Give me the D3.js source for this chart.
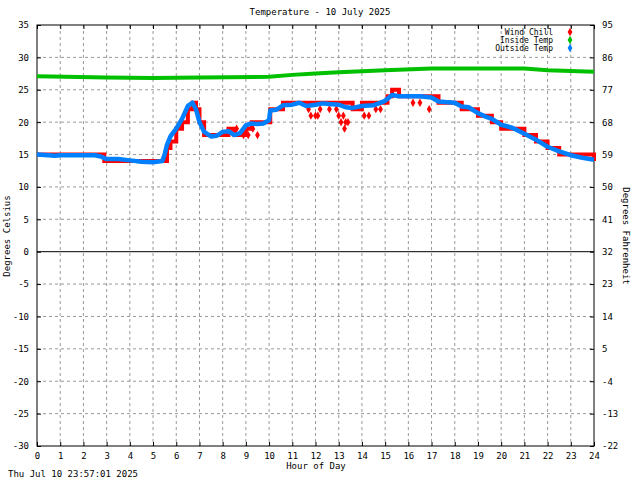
<!DOCTYPE html><html><head><meta charset="utf-8"><script src="https://cdn.jsdelivr.net/npm/d3@7"></script>
<style>body{margin:0;background:#fff}text{font-family:"DejaVu Sans Mono",monospace;font-size:9px}</style></head><body>
<svg id="c" width="640" height="480"></svg>
<script>
const hours=d3.range(0,25);
const cTicks=[35,30,25,20,15,10,5,0,-5,-10,-15,-20,-25,-30];
const fTicks=[95,86,77,68,59,50,41,32,23,14,5,-4,-13,-22];
const outT=[0,0.5,0.75,1,1.5,2,2.5,2.75,3,3.5,4,4.5,5,5.4,5.5,5.6,5.75,6,6.25,6.5,6.7,6.85,7,7.2,7.5,7.75,8,8.25,8.5,8.75,9,9.25,9.5,9.75,10,10.05,10.3,10.6,11,11.3,11.6,12,12.3,12.6,13,13.3,13.6,14,14.5,15,15.3,15.6,16,16.5,17,17.3,17.6,18,18.3,18.6,19,19.3,19.6,20,20.5,21,21.5,22,22.5,23,23.5,24];
const outV=[15.0,14.9,14.8,14.9,14.9,14.9,14.9,14.7,14.3,14.3,14.1,13.9,13.8,14.0,15,16.5,17.8,19,20.5,22.5,23.0,22,20,18.5,17.8,17.9,18.5,18.6,18.0,18.3,19.5,19.8,19.7,19.8,20.3,21.8,21.9,22.6,22.7,23.0,22.5,22.7,22.9,22.8,22.7,22.3,22.2,22.5,22.6,23.3,24.2,24.0,24.0,24.0,23.8,23.2,23.1,23.0,22.4,22.3,21.4,20.9,20.5,19.6,19.1,18.2,17.3,16.2,15.5,14.9,14.5,14.2];
const wcT=[0,2.9,2.9,4.8,4.8,5.4,5.6,5.75,6,6.25,6.5,6.7,6.85,7,7.2,7.5,7.75,8,8.25,8.5,8.75,9,9.25,9.5,9.75,10,10.05,10.3,10.6,11,11.3,11.6,12,13,13.6,14,14.5,15,15.1,15.3,15.6,16,16.5,17,17.3,17.6,18,18.3,18.6,19,19.3,19.6,20,20.5,21,21.5,22,22.5,23,23.5,24];
const wcV=[15,15,14,14,14,14,16,17,19,20,22,23,22,20,18,18,18,18,19,18,18,19,20,20,20,20,22,22,23,23,23,23,23,23,22,23,23,23,24,25,24,24,24,24,23,23,23,22,22,21,21,20,19,19,18,17,16,15,15,15,14];
const dipT=[8.6,8.9,9.1,9.3,9.5,11.7,11.8,12.0,12.1,12.2,12.6,12.9,13.0,13.1,13.2,13.25,13.3,13.4,14.1,14.3,14.6,14.8,16.2,16.5,16.9];
const dipV=[19,18,18,19,18,22,21,21,21,22,22,22,21,20,21,19,20,20,21,21,22,22,23,23,22];
const inT=[0,3,5,7,10,11,12,13,15,17,21,22,24];
const inV=[27.1,26.9,26.8,26.9,27.0,27.3,27.5,27.7,28.0,28.3,28.3,28.0,27.8];

const svg=d3.select("#c"),L=37,R=594,T=25,B=446;
const x=d3.scaleLinear().domain([0,24]).range([L,R]);
const y=d3.scaleLinear().domain([-30,35]).range([B,T]);
const g=svg.append("g");
hours.forEach(h=>{if(h>0&&h<24)g.append("line").attr("x1",x(h)).attr("x2",x(h)).attr("y1",T).attr("y2",B).attr("stroke","#999").attr("stroke-dasharray","3,3");});
cTicks.forEach(c=>{if(c<35&&c>-30&&c!==0)g.append("line").attr("x1",L).attr("x2",R).attr("y1",y(c)).attr("y2",y(c)).attr("stroke","#999").attr("stroke-dasharray","3,3");});
g.append("line").attr("x1",L).attr("x2",R).attr("y1",y(0)).attr("y2",y(0)).attr("stroke","#000");
svg.append("rect").attr("x",L).attr("y",T).attr("width",R-L).attr("height",B-T).attr("fill","none").attr("stroke","#000");
svg.append("g").attr("transform",`translate(${L},0)`).call(d3.axisLeft(y).tickValues(cTicks).tickSize(-4).tickPadding(8).tickFormat(d=>String(d))).call(a=>a.select(".domain").remove());
svg.append("g").attr("transform",`translate(${R},0)`).call(d3.axisRight(y).tickValues(cTicks).tickSize(-4).tickPadding(8).tickFormat((d,i)=>String(fTicks[i]))).call(a=>a.select(".domain").remove());
svg.append("g").attr("transform",`translate(0,${B})`).call(d3.axisBottom(x).tickValues(hours).tickSize(-4).tickPadding(7)).call(a=>a.select(".domain").remove());
svg.append("g").attr("transform",`translate(0,${T})`).call(d3.axisTop(x).tickValues(hours).tickSize(-4).tickFormat("")).call(a=>a.select(".domain").remove());
svg.selectAll(".tick text").style("font-family","DejaVu Sans Mono").style("font-size","9px");
const ln=d3.line().x(d=>x(d[0])).y(d=>y(d[1]));
const st=d3.line().x(d=>x(d[0])).y(d=>y(d[1])).curve(d3.curveStepAfter);
const diamond=d3.symbol().type(d3.symbolDiamond).size(20);
svg.append("path").attr("d",st(wcT.map((t,i)=>[t,wcV[i]]))).attr("fill","none").attr("stroke","#ff0000").attr("stroke-width",4);
svg.selectAll(".dip").data(dipT.map((t,i)=>[t,dipV[i]])).join("path").attr("d",diamond).attr("transform",d=>`translate(${x(d[0])},${y(d[1])})`).attr("fill","#ff0000");
svg.append("path").attr("d",ln(inT.map((t,i)=>[t,inV[i]]))).attr("fill","none").attr("stroke","#00c000").attr("stroke-width",4);
svg.append("path").attr("d",ln(outT.map((t,i)=>[t,outV[i]]))).attr("fill","none").attr("stroke","#0080ff").attr("stroke-width",4.5).attr("stroke-linejoin","round");
svg.append("text").attr("x",320).attr("y",15).attr("text-anchor","middle").text("Temperature - 10 July 2025");
[["Wind Chill","#ff0000"],["Inside Temp","#00c000"],["Outside Temp","#0080ff"]].forEach((d,i)=>{
 svg.append("text").attr("x",553).attr("y",35+i*8).attr("text-anchor","end").style("font-size","8px").text(d[0]);
 svg.append("path").attr("d",diamond).attr("transform",`translate(570,${32+i*8})`).attr("fill",d[1]);});
svg.append("text").attr("x",316).attr("y",469).attr("text-anchor","middle").text("Hour of Day");
svg.append("text").attr("transform","translate(10,236) rotate(-90)").attr("text-anchor","middle").text("Degrees Celsius");
svg.append("text").attr("transform","translate(623,236) rotate(90)").attr("text-anchor","middle").text("Degrees Fahrenheit");
svg.append("text").attr("x",8).attr("y",477).text("Thu Jul 10 23:57:01 2025");
</script></body></html>
